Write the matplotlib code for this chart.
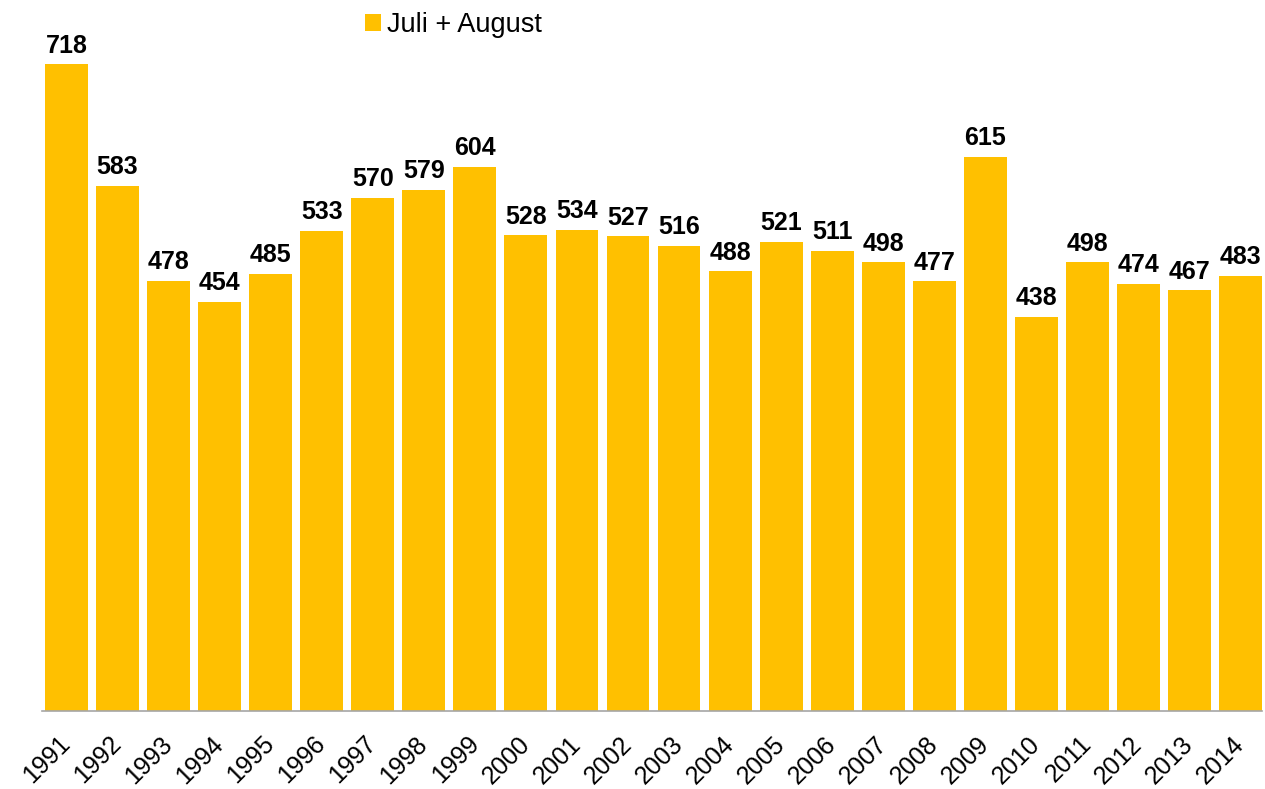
import numpy as np
import matplotlib.pyplot as plt
import matplotlib.transforms as mtransforms

plt.rcParams['font.family'] = ['Liberation Sans', 'DejaVu Sans']

years = [str(y) for y in range(1991, 2015)]
values = [718, 583, 478, 454, 485, 533, 570, 579, 604, 528, 534, 527,
          516, 488, 521, 511, 498, 477, 615, 438, 498, 474, 467, 483]
series_name = "Juli + August"
bar_color = "#FFC000"

fig = plt.figure(figsize=(12.65, 7.89), dpi=100)
ax = fig.add_axes([0.0332, 0.0989, 0.9644, 0.888])

x = np.arange(len(years))
ax.bar(x, values, width=0.84, color=bar_color, label=series_name)

for xi, v in zip(x, values):
    ax.annotate(f"{v}", (xi, v), xytext=(0, 8.5), textcoords='offset points',
                ha='center', va='baseline', fontsize=18, fontweight='bold',
                color='black')

ax.set_xlim(-0.48, 23.42)
ax.set_ylim(0, 778)
ax.set_yticks([])
ax.set_xticks(x)
ax.set_xticklabels(years, rotation=45, ha='right', va='top',
                   rotation_mode='anchor', fontsize=18)
ax.tick_params(axis='x', length=0, pad=15)
shift = mtransforms.ScaledTranslation(-6 / 72, 0, fig.dpi_scale_trans)
for lab in ax.get_xticklabels():
    lab.set_transform(lab.get_transform() + shift)

for side in ['top', 'right', 'left']:
    ax.spines[side].set_visible(False)
ax.spines['bottom'].set_color('#A6A6A6')
ax.spines['bottom'].set_linewidth(1.2)

ax.legend(loc='center left', bbox_to_anchor=(365 / 1265, 1 - 25 / 789),
          bbox_transform=fig.transFigure, frameon=False, fontsize=19.5,
          handlelength=0.6, handleheight=0.6, handletextpad=0.2,
          borderaxespad=0, borderpad=0)

fig.savefig("out.png", dpi=100)
